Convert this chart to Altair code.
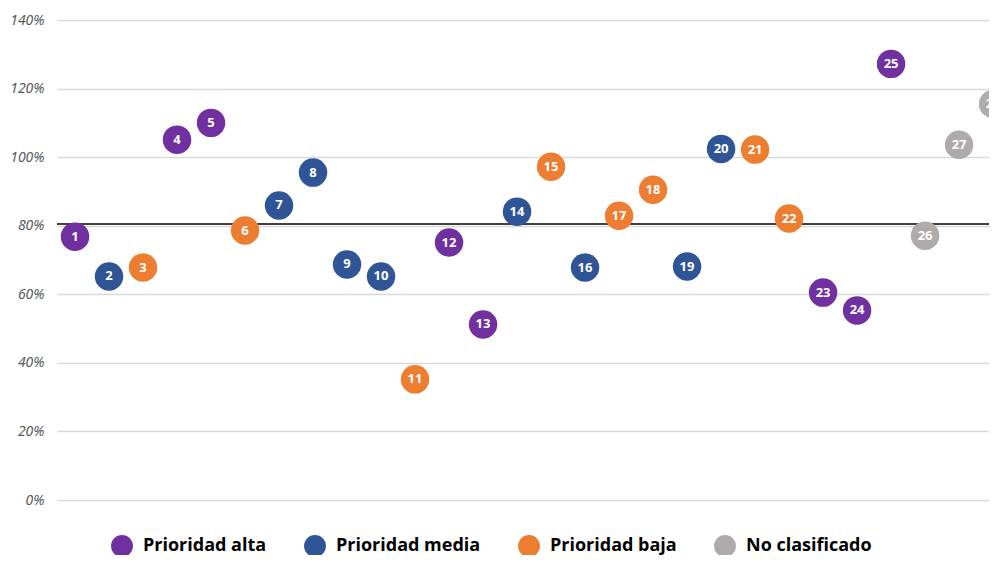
import altair as alt
import pandas as pd

ids = list(range(1, 29))
values = [76.8, 65.2, 67.8, 105.1, 110.0, 78.6, 85.9, 95.5, 68.7, 65.2,
          35.2, 75.1, 51.2, 84.1, 97.2, 67.8, 82.9, 90.5, 68.1, 102.4,
          102.2, 82.1, 60.5, 55.3, 127.2, 77.1, 103.6, 115.5]
A, M, B, N = "Prioridad alta", "Prioridad media", "Prioridad baja", "No clasificado"
groups = [A, M, B, A, A, B, M, M, M, M,
          B, A, A, M, B, M, B, B, M, M,
          B, B, A, A, A, N, N, N]
categories = [A, M, B, N]
colors = ["#7030A0", "#2F5597", "#ED7D31", "#AFABAB"]
threshold = [80.5]

df = pd.DataFrame({"id": ids, "valor": values, "grupo": groups})
ref = pd.DataFrame({"valor": threshold})

xscale = alt.Scale(domain=[0.47, 27.88], nice=False, zero=False)
yscale = alt.Scale(domain=[0, 140], nice=False)

base = alt.Chart(df).encode(
    x=alt.X("id:Q", scale=xscale, axis=None),
    y=alt.Y("valor:Q", scale=yscale,
            axis=alt.Axis(values=[0, 20, 40, 60, 80, 100, 120, 140],
                          labelExpr="datum.value + '%'", title=None,
                          domain=False, ticks=False, labelPadding=13,
                          labelFont="Noto Sans", labelFontStyle="italic",
                          labelFontSize=14, labelColor="#595959",
                          grid=True, gridColor="#D9D9D9", gridWidth=1.5)),
)

rule = alt.Chart(ref).mark_rule(color="black", strokeWidth=1.6).encode(
    y=alt.Y("valor:Q", scale=yscale)
)

points = base.mark_circle(size=810, opacity=1, clip=True).encode(
    color=alt.Color("grupo:N", scale=alt.Scale(domain=categories, range=colors),
                    legend=alt.Legend(title=None, orient="none", direction="horizontal",
                                      legendX=54, legendY=515,
                                      symbolType="circle", symbolSize=480,
                                      symbolOpacity=1, symbolStrokeWidth=0,
                                      labelFont="Open Sans", labelFontWeight="bold",
                                      labelFontSize=18, labelColor="#000000",
                                      labelOffset=10, columnPadding=37,
                                      labelLimit=300))
)

labels = base.mark_text(color="white", font="Open Sans", fontWeight="bold",
                        fontSize=13, clip=True).encode(text="id:N")

chart = alt.layer(rule, points, labels).properties(
    width=932, height=480,
    autosize=alt.AutoSizeParams(type="none"),
    padding={"left": 49, "top": 12, "right": 0, "bottom": 55},
).configure_view(stroke=None)

chart.save("out.html", embed_options={"renderer": "svg", "actions": False})
